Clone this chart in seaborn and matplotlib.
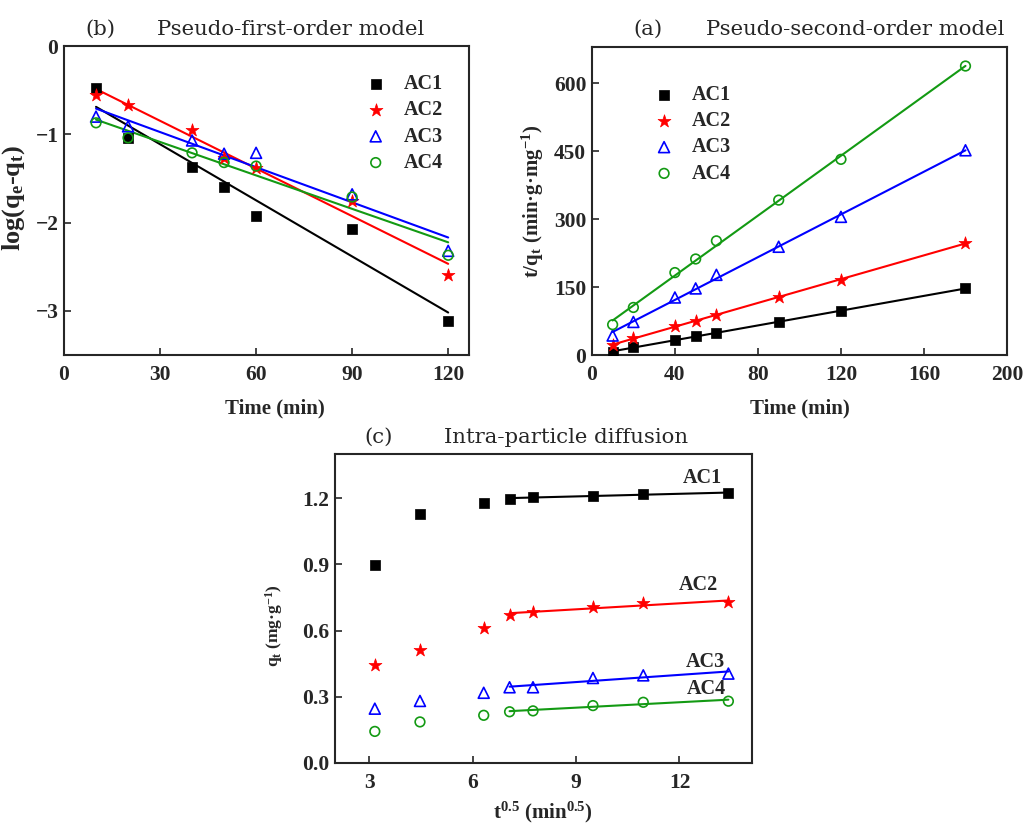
import numpy as np
import pandas as pd
import matplotlib
matplotlib.use("Agg")
import matplotlib.pyplot as plt
from matplotlib.ticker import FormatStrFormatter
import seaborn as sns

# ---- data -------------------------------------------------------------
samples = ["AC1", "AC2", "AC3", "AC4"]
colors = {"AC1": "black", "AC2": "red", "AC3": "blue", "AC4": "#139a13"}

# pseudo-first-order: log(qe - qt) vs time
t_pfo = [10, 20, 40, 50, 60, 90, 120]
pfo_ac1 = [-0.48, -1.04, -1.37, -1.60, -1.92, -2.07, -3.12]
pfo_ac2 = [-0.55, -0.67, -0.95, -1.27, -1.38, -1.76, -2.59]
pfo_ac3 = [-0.80, -0.91, -1.07, -1.22, -1.21, -1.68, -2.32]
pfo_ac4 = [-0.87, -1.04, -1.21, -1.32, -1.36, -1.71, -2.37]

# pseudo-second-order: t/qt vs time
t_pso = [10, 20, 40, 50, 60, 90, 120, 180]
pso_ac1 = [7.5, 17, 33, 42, 48, 73, 98, 147]
pso_ac2 = [23, 38, 64, 74, 88, 127, 166, 248]
pso_ac3 = [43, 73, 127, 147, 177, 239, 305, 452]
pso_ac4 = [67, 105, 182, 212, 252, 342, 432, 638]

# intra-particle diffusion: qt vs t^0.5
sqrt_t = [3.16, 4.47, 6.32, 7.07, 7.75, 9.49, 10.95, 13.42]
ipd_ac1 = [0.895, 1.13, 1.18, 1.195, 1.207, 1.21, 1.218, 1.223]
ipd_ac2 = [0.445, 0.514, 0.612, 0.672, 0.683, 0.708, 0.723, 0.728]
ipd_ac3 = [0.246, 0.281, 0.318, 0.343, 0.343, 0.385, 0.397, 0.405]
ipd_ac4 = [0.143, 0.186, 0.216, 0.232, 0.236, 0.260, 0.275, 0.280]
ipd_fit_from = 3  # linear stage starts at the 4th point

pfo = dict(zip(samples, [pfo_ac1, pfo_ac2, pfo_ac3, pfo_ac4]))
pso = dict(zip(samples, [pso_ac1, pso_ac2, pso_ac3, pso_ac4]))
ipd = dict(zip(samples, [ipd_ac1, ipd_ac2, ipd_ac3, ipd_ac4]))

# ---- style ------------------------------------------------------------
sns.set_theme(style="ticks")
plt.rcParams.update({
    "font.family": ["Liberation Serif", "DejaVu Serif"],
    "font.weight": "bold",
    "axes.labelweight": "bold",
    "mathtext.default": "regular",
    "axes.linewidth": 1.5,
    "xtick.direction": "in",
    "ytick.direction": "in",
    "xtick.major.size": 5,
    "ytick.major.size": 5,
    "xtick.major.width": 1.2,
    "ytick.major.width": 1.2,
    "xtick.major.pad": 7,
    "ytick.major.pad": 4,
    "xtick.labelsize": 15.5,
    "ytick.labelsize": 15.5,
    "axes.labelsize": 15,
})

markers = {"AC1": "s", "AC2": "*", "AC3": "^", "AC4": "o"}
sizes = {"AC1": 48, "AC2": 95, "AC3": 62, "AC4": 48}
filled = {"AC1": True, "AC2": True, "AC3": False, "AC4": False}


def draw_points(ax, x, y, name, label=True):
    c = colors[name]
    kw = dict(marker=markers[name], s=sizes[name], color=c, zorder=3)
    if filled[name]:
        kw.update(edgecolor=c, linewidth=0.5)
    else:
        kw.update(facecolor="none", edgecolor=c, linewidth=1.2)
    sns.scatterplot(x=x, y=y, ax=ax, label=name if label else None, legend=False, **kw)


def draw_fit(ax, x, y, name):
    sns.regplot(x=np.asarray(x, float), y=np.asarray(y, float), ax=ax, scatter=False,
                ci=None, truncate=True, color=colors[name],
                line_kws={"linewidth": 1.5, "zorder": 2})


fig = plt.figure(figsize=(10.24, 8.26), dpi=100)
ax_b = fig.add_axes([0.0625, 0.5702, 0.3955, 0.3741])
ax_a = fig.add_axes([0.578, 0.5702, 0.4054, 0.3729])
ax_c = fig.add_axes([0.327, 0.0763, 0.4072, 0.3741])

# ---- (b) pseudo-first-order ----------------------------------------------
for name in samples:
    draw_fit(ax_b, t_pfo, pfo[name], name)
    draw_points(ax_b, t_pfo, pfo[name], name)
ax_b.set_xlim(0, 126.5)
ax_b.set_ylim(-3.5, 0)
ax_b.set_xticks([0, 30, 60, 90, 120])
ax_b.set_yticks([0, -1, -2, -3])
ax_b.set_xlabel("Time (min)")
ax_b.set_ylabel("log(q$_e$-q$_t$)", fontsize=19)
ax_b.xaxis.set_label_coords(0.52, -0.142)
ax_b.yaxis.set_label_coords(-0.091, 0.51)

# ---- (a) pseudo-second-order ---------------------------------------------
for name in samples:
    draw_fit(ax_a, t_pso, pso[name], name)
    draw_points(ax_a, t_pso, pso[name], name)
ax_a.set_xlim(0, 200)
ax_a.set_ylim(0, 680)
ax_a.set_xticks([0, 40, 80, 120, 160, 200])
ax_a.set_yticks([0, 150, 300, 450, 600])
ax_a.set_xlabel("Time (min)")
ax_a.set_ylabel("t/q$_t$ (min·g·mg$^{-1}$)")
ax_a.xaxis.set_label_coords(0.5, -0.14)
ax_a.yaxis.set_label_coords(-0.11, 0.5)

# ---- (c) intra-particle diffusion ----------------------------------------
for name in samples:
    ys = ipd[name]
    draw_fit(ax_c, sqrt_t[ipd_fit_from:], ys[ipd_fit_from:], name)
    draw_points(ax_c, sqrt_t, ys, name, label=False)
ax_c.set_xlim(2.0, 14.1)
ax_c.set_ylim(0, 1.4)
ax_c.set_xticks([3, 6, 9, 12])
ax_c.set_yticks([0.0, 0.3, 0.6, 0.9, 1.2])
ax_c.yaxis.set_major_formatter(FormatStrFormatter("%.1f"))
ax_c.set_xlabel("t$^{0.5}$ (min$^{0.5}$)")
ax_c.set_ylabel("q$_t$ (mg·g$^{-1}$)", fontsize=12.5)
ax_c.xaxis.set_label_coords(0.5, -0.118)
ax_c.yaxis.set_label_coords(-0.12, 0.443)

curve_labels = {"AC1": (12.67, 1.29), "AC2": (12.55, 0.805), "AC3": (12.75, 0.459),
                "AC4": (12.78, 0.336)}
for name, (lx, ly) in curve_labels.items():
    ax_c.text(lx, ly, name, ha="center", va="center", fontsize=14.5, fontweight="bold")

for ax in (ax_a, ax_b, ax_c):
    for sp in ax.spines.values():
        sp.set_visible(True)
        sp.set_linewidth(1.5)
    ax.tick_params(top=False, right=False)

# ---- legends ---------------------------------------------------------------
leg_kw = dict(frameon=False, prop={"size": 14.5, "weight": "bold"}, handletextpad=0.4,
              labelspacing=0.31, borderaxespad=0.0, loc="upper left")
ax_b.legend(bbox_to_anchor=(0.70, 0.935), **leg_kw)
ax_a.legend(bbox_to_anchor=(0.106, 0.903), **leg_kw)

# ---- panel titles ------------------------------------------------------------
title_kw = dict(fontsize=15.3, fontweight="normal", ha="center", va="baseline",
                family=["DejaVu Serif"])
fig.text(0.0977, 1 - 35 / 826, "(b)", **title_kw)
fig.text(0.2842, 1 - 35 / 826, "Pseudo-first-order model", **title_kw)
fig.text(0.6328, 1 - 35 / 826, "(a)", **title_kw)
fig.text(0.835, 1 - 35 / 826, "Pseudo-second-order model", **title_kw)
fig.text(0.3701, 1 - 443 / 826, "(c)", **title_kw)
fig.text(0.5527, 1 - 443 / 826, "Intra-particle diffusion", **title_kw)

fig.savefig("out.png", dpi=100, facecolor="white")
